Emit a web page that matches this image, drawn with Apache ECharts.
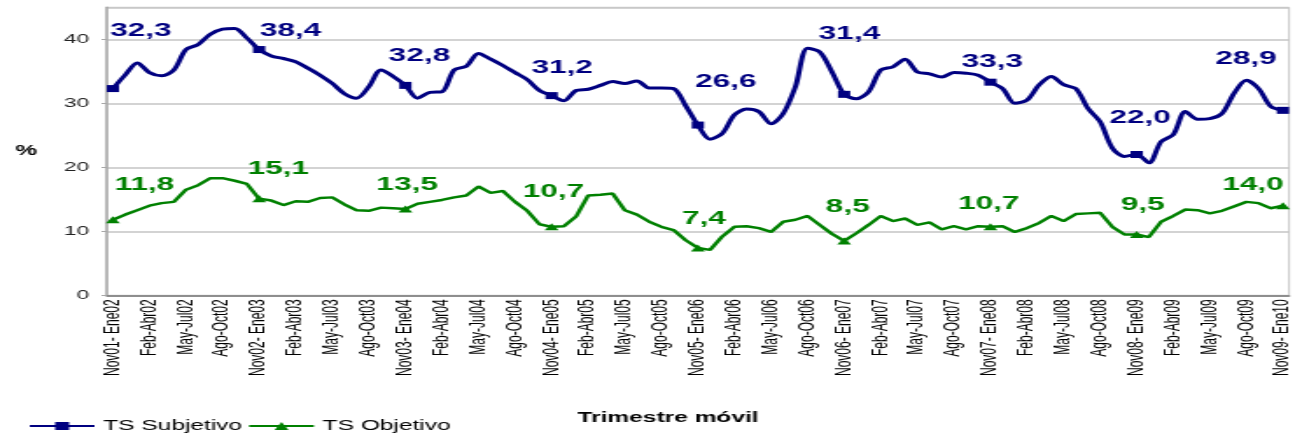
<!DOCTYPE html>
<html>
<head>
<meta charset="utf-8">
<script src="https://cdn.jsdelivr.net/npm/echarts@6.0.0/dist/echarts.min.js"></script>
<style>
  html, body { margin: 0; padding: 0; background: #ffffff; overflow: hidden; }
  /* the chart is laid out narrow and widened horizontally to the page width */
  #chart { width: 742px; height: 438px; transform: scaleX(1.75); transform-origin: 0 0; }
</style>
</head>
<body>
<div id="chart"></div>
<script>
// moving three-month periods, Nov01-Ene02 .. Nov09-Ene10
const periodos = [
  "Nov01- Ene02","Dic01- Feb02","Ene-Mar02","Feb-Abr02","Mar-May02","Abr-Jun02","May-Jul02","Jun-Ago02","Jul-Sep02","Ago-Oct02","Sep-Nov02","Oct-Dic02",
  "Nov02- Ene03","Dic02- Feb03","Ene-Mar03","Feb-Abr03","Mar-May03","Abr-Jun03","May-Jul03","Jun-Ago03","Jul-Sep03","Ago-Oct03","Sep-Nov03","Oct-Dic03",
  "Nov03- Ene04","Dic03- Feb04","Ene-Mar04","Feb-Abr04","Mar-May04","Abr-Jun04","May-Jul04","Jun-Ago04","Jul-Sep04","Ago-Oct04","Sep-Nov04","Oct-Dic04",
  "Nov04- Ene05","Dic04- Feb05","Ene-Mar05","Feb-Abr05","Mar-May05","Abr-Jun05","May-Jul05","Jun-Ago05","Jul-Sep05","Ago-Oct05","Sep-Nov05","Oct-Dic05",
  "Nov05- Ene06","Dic05- Feb06","Ene-Mar06","Feb-Abr06","Mar-May06","Abr-Jun06","May-Jul06","Jun-Ago06","Jul-Sep06","Ago-Oct06","Sep-Nov06","Oct-Dic06",
  "Nov06- Ene07","Dic06- Feb07","Ene-Mar07","Feb-Abr07","Mar-May07","Abr-Jun07","May-Jul07","Jun-Ago07","Jul-Sep07","Ago-Oct07","Sep-Nov07","Oct-Dic07",
  "Nov07- Ene08","Dic07- Feb08","Ene-Mar08","Feb-Abr08","Mar-May08","Abr-Jun08","May-Jul08","Jun-Ago08","Jul-Sep08","Ago-Oct08","Sep-Nov08","Oct-Dic08",
  "Nov08- Ene09","Dic08- Feb09","Ene-Mar09","Feb-Abr09","Mar-May09","Abr-Jun09","May-Jul09","Jun-Ago09","Jul-Sep09","Ago-Oct09","Sep-Nov09","Oct-Dic09",
  "Nov09- Ene10"
];

// TS Subjetivo (%)
const tsSubjetivo = [
  32.3, 34.4, 36.3, 34.8, 34.3, 35.2, 38.4, 39.2, 40.8, 41.6, 41.7, 40.2,
  38.4, 37.4, 37.0, 36.5, 35.5, 34.4, 33.1, 31.5, 30.8, 32.6, 35.2, 34.2,
  32.8, 30.8, 31.7, 31.8, 35.2, 35.8, 37.8, 36.9, 35.9, 34.8, 33.7, 32.0,
  31.2, 30.4, 32.0, 32.2, 32.8, 33.4, 33.1, 33.5, 32.4, 32.4, 32.3, 29.6,
  26.6, 24.4, 25.3, 28.2, 29.1, 28.7, 26.8, 28.4, 32.6, 38.6, 38.0, 34.9,
  31.4, 30.7, 31.8, 35.2, 35.7, 36.9, 34.9, 34.6, 34.1, 34.8, 34.7, 34.4,
  33.3, 32.3, 30.0, 30.5, 32.9, 34.2, 32.9, 32.3, 29.2, 27.1, 23.0, 21.7,
  22.0, 20.7, 24.0, 25.1, 28.7, 27.5, 27.6, 28.4, 31.6, 33.6, 32.3, 29.5,
  28.9
];

// TS Objetivo (%)
const tsObjetivo = [
  11.8, 12.6, 13.3, 14.0, 14.4, 14.6, 16.5, 17.2, 18.3, 18.3, 17.9, 17.4,
  15.1, 14.8, 14.1, 14.7, 14.6, 15.2, 15.3, 14.2, 13.3, 13.2, 13.7, 13.6,
  13.5, 14.3, 14.6, 14.9, 15.3, 15.6, 17.0, 16.0, 16.3, 14.6, 13.2, 11.1,
  10.7, 10.8, 12.3, 15.6, 15.7, 15.9, 13.3, 12.6, 11.5, 10.7, 10.2, 8.6,
  7.4, 7.1, 9.2, 10.7, 10.8, 10.5, 9.9, 11.5, 11.8, 12.4, 11.0, 9.6,
  8.5, 9.7, 11.0, 12.4, 11.6, 12.0, 11.0, 11.4, 10.3, 10.8, 10.3, 10.8,
  10.7, 10.8, 9.9, 10.5, 11.3, 12.4, 11.6, 12.7, 12.8, 12.9, 10.7, 9.5,
  9.5, 9.1, 11.5, 12.4, 13.4, 13.3, 12.8, 13.2, 13.9, 14.6, 14.4, 13.6,
  14.0
];

// periods that carry a marker and a value label (each Nov-Ene)
const marcados = [0, 12, 24, 36, 48, 60, 72, 84, 96];

// label placement relative to each marker
const desplSubjetivo = [[16,-58],[18,-19],[8,-29],[6,-28],[16,-43],[3,-60],[1,-20],[2,-36],[-21,-51]];
const desplObjetivo  = [[18,-35],[11,-30],[1,-24],[1,-35],[3.5,-29],[2,-34],[-1,-23],[3.5,-29],[-17,-21]];

const FONT = "'Liberation Sans', Arial, sans-serif";
const AZUL = '#000080';
const VERDE = '#008000';

function puntos(valores, color, simbolo, tam, despl) {
  return valores.map(function (v, i) {
    const k = marcados.indexOf(i);
    if (k < 0) return { value: v, symbol: 'none' };
    return {
      value: v,
      symbol: simbolo,
      symbolSize: tam,
      label: {
        show: true,
        position: 'inside',
        offset: despl[k],
        color: color,
        fontSize: 18,
        fontWeight: 'bold',
        fontFamily: FONT,
        textBorderWidth: 0,
        formatter: function (p) { return p.value.toFixed(1).replace('.', ','); }
      }
    };
  });
}

const chart = echarts.init(document.getElementById('chart'));
chart.setOption({
  animation: false,
  backgroundColor: '#ffffff',
  title: {
    text: 'Trimestre móvil',
    left: 330,
    top: 411,
    padding: 0,
    textStyle: { fontFamily: FONT, fontSize: 14, fontWeight: 'bold', color: '#000' }
  },
  legend: {
    left: 16,
    top: 419,
    padding: 0,
    itemWidth: 37,
    itemHeight: 10,
    itemGap: 3,
    textStyle: { fontFamily: FONT, fontSize: 14, color: '#000' },
    data: ['TS Subjetivo', 'TS Objetivo']
  },
  grid: {
    left: 61, right: 5.4, top: 7.3, bottom: 142.7,
    show: true, borderColor: '#c8c8c8', borderWidth: 1, backgroundColor: '#ffffff'
  },
  xAxis: {
    type: 'category',
    data: periodos,
    boundaryGap: true,
    axisLine: { lineStyle: { color: '#7a7a7a', width: 1.5 } },
    axisTick: { interval: 0, length: 4, lineStyle: { color: '#404040' } },
    axisLabel: {
      interval: 2,
      rotate: 90,
      margin: 4,
      fontFamily: FONT,
      fontSize: 12,
      color: '#000'
    },
    splitLine: { show: false }
  },
  yAxis: {
    type: 'value',
    min: 0,
    max: 45,
    interval: 10,
    name: '%',
    nameLocation: 'middle',
    nameRotate: 0,
    nameGap: 46,
    nameTextStyle: { fontFamily: FONT, fontSize: 14, fontWeight: 'bold', color: '#000', align: 'center', verticalAlign: 'middle' },
    axisLine: { show: true, lineStyle: { color: '#a8a8a8', width: 1.5 } },
    axisTick: { show: true, length: 3, lineStyle: { color: '#a8a8a8' } },
    axisLabel: { fontFamily: FONT, fontSize: 13, color: '#222', margin: 10, showMaxLabel: false },
    splitLine: { lineStyle: { color: '#c4c4c4', width: 1.5 } }
  },
  series: [
    {
      name: 'TS Subjetivo',
      type: 'line',
      smooth: 0.3,
      symbol: 'rect',
      symbolSize: 7,
      showAllSymbol: true,
      color: AZUL,
      lineStyle: { color: AZUL, width: 3 },
      itemStyle: { color: AZUL },
      emphasis: { disabled: true },
      data: puntos(tsSubjetivo, AZUL, 'rect', 7, desplSubjetivo),
      z: 3
    },
    {
      name: 'TS Objetivo',
      type: 'line',
      smooth: false,
      symbol: 'triangle',
      symbolSize: [8, 7],
      showAllSymbol: true,
      color: VERDE,
      lineStyle: { color: VERDE, width: 2.5 },
      itemStyle: { color: VERDE },
      emphasis: { disabled: true },
      data: puntos(tsObjetivo, VERDE, 'triangle', [8, 7], desplObjetivo),
      z: 2
    }
  ]
});
</script>
</body>
</html>
